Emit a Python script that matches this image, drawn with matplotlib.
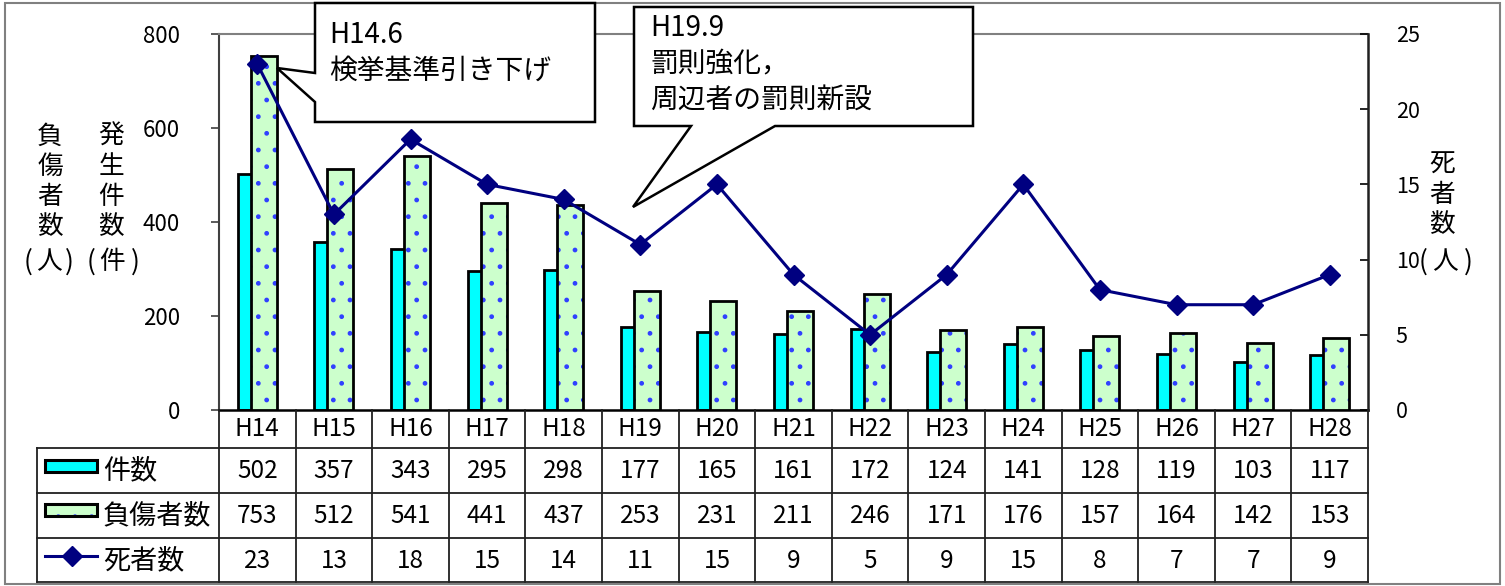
import matplotlib
matplotlib.use("Agg")
import matplotlib.pyplot as plt
import numpy as np
from matplotlib.patches import Polygon, Rectangle

plt.rcParams['font.family'] = ['Noto Sans CJK JP', 'DejaVu Sans']
plt.rcParams['hatch.linewidth'] = 1.0

# ---- data ----
years = ["H14", "H15", "H16", "H17", "H18", "H19", "H20", "H21", "H22",
         "H23", "H24", "H25", "H26", "H27", "H28"]
cases = [502, 357, 343, 295, 298, 177, 165, 161, 172, 124, 141, 128, 119, 103, 117]
injured = [753, 512, 541, 441, 437, 253, 231, 211, 246, 171, 176, 157, 164, 142, 153]
deaths = [23, 13, 18, 15, 14, 11, 15, 9, 5, 9, 15, 8, 7, 7, 9]
series_names = ["件数", "負傷者数", "死者数"]
left_ticks = [0, 200, 400, 600, 800]
right_ticks = [0, 5, 10, 15, 20, 25]
note1 = ["H14.6", "検挙基準引き下げ"]
note2 = ["H19.9", "罰則強化，", "周辺者の罰則新設"]

CYAN = "#00FFFF"
LGREEN = "#CCFFCC"
NAVY = "#000080"

W, H = 1505, 586
fig = plt.figure(figsize=(W / 100, H / 100), dpi=100)


def fx(x):
    return x / W


def fy(y):
    return 1 - y / H


# outer border
fig.patches.append(Rectangle((fx(5), fy(584)), fx(1500) - fx(5), fy(3) - fy(584),
                             transform=fig.transFigure, fill=False,
                             edgecolor="#808080", lw=1.5, zorder=0))

ax = fig.add_axes([fx(219), fy(410), fx(1368) - fx(219), fy(34) - fy(410)])
x = np.arange(len(years))
bw = 0.34
off = 0.085
ax.bar(x - off, cases, width=bw, color=CYAN, edgecolor="black", lw=2, zorder=2)
ax.bar(x + off, injured, width=bw, color=LGREEN, edgecolor="#3040FF", lw=0,
       hatch=".", zorder=3)
ax.bar(x + off, injured, width=bw, fill=False, edgecolor="black", lw=2, zorder=4)
ax.set_xlim(-0.5, len(years) - 0.5)
ax.set_ylim(0, 800)
ax.set_yticks(left_ticks)
ax.set_xticks([])
ax.tick_params(axis="y", direction="out", length=6, width=1.2, labelsize=16, pad=22,
               color="#404040")
ax.spines["top"].set_color("#808080")
ax.spines["top"].set_linewidth(1.5)
ax.spines["left"].set_color("#404040")
ax.spines["left"].set_linewidth(1.5)
ax.spines["bottom"].set_color("black")
ax.spines["bottom"].set_linewidth(1.8)
ax.spines["right"].set_visible(False)

ax2 = ax.twinx()
ax2.plot(x, deaths, color=NAVY, lw=2.2, marker="D", ms=10, zorder=5)
ax2.set_ylim(0, 25)
ax2.set_yticks(right_ticks)
ax2.tick_params(axis="y", direction="in", length=6, width=1.2, labelsize=15.5, pad=20)
ax2.spines["right"].set_color("#202020")
ax2.spines["right"].set_linewidth(1.8)
for s in ["top", "left", "bottom"]:
    ax2.spines[s].set_visible(False)
ax2.set_xlim(-0.5, len(years) - 0.5)

# axis labels (vertical CJK)
lab_fs = 18.5
par_fs = 19
for i, ch in enumerate("負傷者数"):
    fig.text(fx(50), fy(137 + 30 * i), ch, ha="center", va="center", fontsize=lab_fs)
for i, ch in enumerate("発生件数"):
    fig.text(fx(111), fy(137 + 30 * i), ch, ha="center", va="center", fontsize=lab_fs)
for ch, xc in [("(", 28), ("人", 49), (")", 69), ("(", 91), ("件", 112), (")", 135)]:
    fig.text(fx(xc), fy(262), ch, ha="center", va="center",
             fontsize=par_fs if ch in "()" else lab_fs)
for i, ch in enumerate("死者数"):
    fig.text(fx(1442), fy(165 + 30 * i), ch, ha="center", va="center", fontsize=lab_fs)
for ch, xc in [("(", 1423), ("人", 1445), (")", 1468)]:
    fig.text(fx(xc), fy(262), ch, ha="center", va="center",
             fontsize=par_fs if ch in "()" else lab_fs)

# ---- table ----
colw = (1368 - 219) / len(years)
lw_cols = (219 - 37) / colw
tax = fig.add_axes([fx(37), fy(582), fx(1368) - fx(37), fy(410) - fy(582)])
tax.axis("off")
x0 = -0.5 - lw_cols
tax.set_xlim(x0, len(years) - 0.5)
tax.set_ylim(172, 0)


def tx(px):
    return x0 + (px - 37) / colw


rows_y = [0, 38, 83, 128, 172]
lc = "#202020"
for yb in rows_y[1:]:
    tax.plot([x0, len(years) - 0.5], [yb, yb], color=lc, lw=1.3, clip_on=False)
tax.plot([x0, x0], [38, 172], color=lc, lw=1.3, clip_on=False)
for i in range(len(years) + 1):
    tax.plot([i - 0.5, i - 0.5], [0, 172], color=lc, lw=1.3, clip_on=False)

tfs = 17.5
for i, yr in enumerate(years):
    tax.text(i, 19.5, yr, ha="center", va="center", fontsize=tfs)
for vals, yc in [(cases, 61), (injured, 106), (deaths, 150.5)]:
    for i, v in enumerate(vals):
        tax.text(i, yc, str(v), ha="center", va="center", fontsize=tfs)

# legend glyphs
tax.add_patch(Rectangle((tx(45), 50), tx(97) - tx(45), 12, facecolor=CYAN,
                        edgecolor="black", lw=2.2, clip_on=False))
tax.add_patch(Rectangle((tx(45), 94), tx(97) - tx(45), 12, facecolor=LGREEN,
                        edgecolor="#3040FF", lw=0, hatch=".", clip_on=False))
tax.add_patch(Rectangle((tx(45), 94), tx(97) - tx(45), 12, fill=False,
                        edgecolor="black", lw=2.2, clip_on=False))
tax.plot([tx(45), tx(97)], [146, 146], color=NAVY, lw=2.2, clip_on=False)
tax.plot([tx(72)], [146], color=NAVY, marker="D", ms=10, clip_on=False)
for name, yc in zip(series_names, [61, 106, 150.5]):
    tax.text(tx(103), yc, name, ha="left", va="center", fontsize=19.5)

# ---- callouts ----
def pts(lst):
    return [(fx(a), fy(b)) for a, b in lst]


c1 = Polygon(pts([(315, 3), (595, 3), (595, 122), (315, 122), (315, 102),
                  (277, 68), (315, 73)]), closed=True, transform=fig.transFigure,
             facecolor="white", edgecolor="black", lw=1.8, zorder=10)
c2 = Polygon(pts([(634, 7), (973, 7), (973, 126), (775, 126), (633, 207),
                  (691, 126), (634, 126)]), closed=True, transform=fig.transFigure,
             facecolor="white", edgecolor="black", lw=1.8, zorder=10)
fig.patches.extend([c1, c2])
cfs = 20
for t, yc in zip(note1, [35, 71]):
    fig.text(fx(329), fy(yc), t, ha="left", va="center", fontsize=cfs, zorder=11)
for t, yc in zip(note2, [28, 63, 100]):
    fig.text(fx(650), fy(yc), t, ha="left", va="center", fontsize=cfs, zorder=11)

fig.savefig("out.png", dpi=100)
